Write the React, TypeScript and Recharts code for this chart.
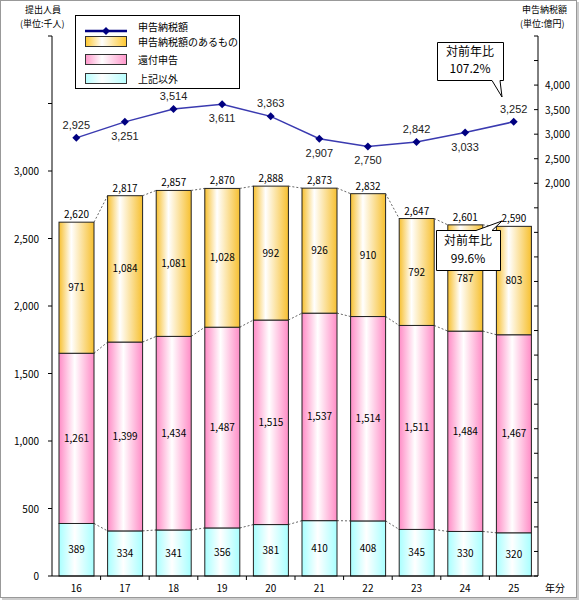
import { ComposedChart, Bar, Line, XAxis, YAxis, LabelList } from "recharts"

const years = ["16", "17", "18", "19", "20", "21", "22", "23", "24", "25"]
const otherCount = [389, 334, 341, 356, 381, 410, 408, 345, 330, 320]
const refundCount = [1261, 1399, 1434, 1487, 1515, 1537, 1514, 1511, 1484, 1467]
const taxpayCount = [971, 1084, 1081, 1028, 992, 926, 910, 792, 787, 803]
const totalCount = [2620, 2817, 2857, 2870, 2888, 2873, 2832, 2647, 2601, 2590]
const taxAmount = [2925, 3251, 3514, 3611, 3363, 2907, 2750, 2842, 3033, 3252]

const leftTicks = [0, 500, 1000, 1500, 2000, 2500, 3000, 3500, 4000]
const rightTicks = [-6000, -5500, -5000, -4500, -4000, -3500, -3000, -2500, -2000, -1500, -1000, -500, 0,
  500, 1000, 1500, 2000, 2500, 3000, 3500, 4000, 4500, 5000]

// which side of the point each amount label sits
const amountLabelSide = ["up", "down", "up", "down", "up", "down", "down", "up", "down", "up"]

const data = years.map((y, i) => ({
  year: y,
  other: otherCount[i],
  refund: refundCount[i],
  taxpay: taxpayCount[i],
  amount: taxAmount[i],
}))

const W = 580
const H = 601
const LEFT_W = 52
const RIGHT_W = 42
const PLOT_W = W - LEFT_W - RIGHT_W
const BAND = PLOT_W / years.length
const FONT = "'Noto Sans CJK JP', sans-serif"

const fmt = (v: number) => v.toLocaleString("en-US")

const cumulative = (key: string) =>
  data.map((d) => {
    if (key === "other") return d.other
    if (key === "refund") return d.other + d.refund
    return d.other + d.refund + d.taxpay
  })

const makeShape = (key: string, grad: string) => {
  const cum = cumulative(key)
  return (props: any) => {
    const { x, y, width, height, index, value } = props
    const v = Array.isArray(value) ? value[1] - value[0] : value
    let link = null
    if (index < data.length - 1 && height > 0) {
      const ny = y - (cum[index + 1] - cum[index]) * (height / v)
      link = (
        <line x1={x + width} y1={y} x2={x + BAND} y2={ny} stroke="#666" strokeWidth={1} strokeDasharray="2 2" />
      )
    }
    return (
      <g>
        <rect x={x} y={y} width={width} height={height} fill={`url(#${grad})`} stroke="#222" strokeWidth={1} />
        {link}
      </g>
    )
  }
}

const Diamond = (props: any) => {
  const { cx, cy } = props
  return <polygon points={`${cx},${cy - 4} ${cx + 4},${cy} ${cx},${cy + 4} ${cx - 4},${cy}`} fill="#000080" />
}

const LeftTick = (props: any) => {
  const { x, y, payload } = props
  if (payload.value > 3000) return <g />
  return (
    <text x={x} y={y} dy={4} textAnchor="end" fontSize={10} fontFamily={FONT} fill="#000">
      {fmt(payload.value)}
    </text>
  )
}

const RightTick = (props: any) => {
  const { x, y, payload } = props
  const show = payload.value >= 2000 && payload.value <= 4000
  return (
    <g>
      <line x1={x - 4} y1={y} x2={x} y2={y} stroke="#000" />
      {show && (
        <text x={x + 7} y={y} dy={4} textAnchor="start" fontSize={10} fontFamily={FONT} fill="#000">
          {fmt(payload.value)}
        </text>
      )}
    </g>
  )
}

const XTick = (props: any) => {
  const { x, y, payload, index } = props
  return (
    <g>
      {index > 0 && <line x1={x - BAND / 2} y1={y} x2={x - BAND / 2} y2={y + 4} stroke="#000" />}
      <text x={x} y={y + 16} textAnchor="middle" fontSize={10} fontFamily={FONT} fill="#000">
        {payload.value}
      </text>
    </g>
  )
}

const TotalLabel = (props: any) => {
  const { x, y, width, index } = props
  return (
    <text x={x + width / 2} y={y - 4} textAnchor="middle" fontSize={10} fontFamily={FONT} fill="#000">
      {fmt(totalCount[index])}
    </text>
  )
}

const AmountLabel = (props: any) => {
  const { x, y, index, value } = props
  const up = amountLabelSide[index] === "up"
  return (
    <text x={x} y={up ? y - 9 : y + 18} textAnchor="middle" fontSize={11} fontFamily="'Liberation Sans', Arial, sans-serif" fill="#222">
      {fmt(value)}
    </text>
  )
}

const legendItems = [
  { name: "申告納税額", kind: "line", color: "#000080" },
  { name: "申告納税額のあるもの", kind: "box", color: "#ffc933" },
  { name: "還付申告", kind: "box", color: "#ff99cc" },
  { name: "上記以外", kind: "box", color: "#b8ffff" },
]

export default function App() {
  return (
    <div style={{ position: "absolute", left: 0, top: 0, width: W, height: H, fontFamily: FONT, background: "#fff" }}>
      <div style={{ position: "absolute", left: 0, top: 0, width: W - 3, height: H - 3, border: "1px solid #999", boxShadow: "2px 2px 0 #ccc", boxSizing: "border-box" }} />
      <ComposedChart width={W} height={H} data={data} margin={{ top: 36, right: 0, bottom: 0, left: 0 }} barSize={35}>
        <defs>
          <linearGradient id="gOrange" x1="0" y1="0" x2="1" y2="0">
            <stop offset="0%" stopColor="#f7c030" />
            <stop offset="35%" stopColor="#ffffff" />
            <stop offset="100%" stopColor="#f7c030" />
          </linearGradient>
          <linearGradient id="gPink" x1="0" y1="0" x2="1" y2="0">
            <stop offset="0%" stopColor="#ff8cc6" />
            <stop offset="45%" stopColor="#ffffff" />
            <stop offset="100%" stopColor="#ff8cc6" />
          </linearGradient>
          <linearGradient id="gCyan" x1="0" y1="0" x2="1" y2="0">
            <stop offset="0%" stopColor="#a8ffff" />
            <stop offset="45%" stopColor="#ffffff" />
            <stop offset="100%" stopColor="#a8ffff" />
          </linearGradient>
        </defs>
        <XAxis dataKey="year" height={25} axisLine={{ stroke: "#000" }} tickLine={false} tickSize={0} tickMargin={0} tick={<XTick />} interval={0} />
        <YAxis yAxisId="left" width={LEFT_W} domain={[0, 4000]} ticks={leftTicks} interval={0} axisLine={{ stroke: "#000" }} tickLine={{ stroke: "#000" }} tickSize={4} tickMargin={9} tick={<LeftTick />} />
        <YAxis yAxisId="right" orientation="right" width={RIGHT_W} domain={[-6000, 5000]} ticks={rightTicks} interval={0} axisLine={{ stroke: "#000" }} tickLine={false} tickSize={0} tickMargin={0} tick={<RightTick />} />
        <Bar yAxisId="left" dataKey="other" stackId="a" isAnimationActive={false} shape={makeShape("other", "gCyan")}>
          <LabelList dataKey="other" position="center" fontSize={10} fontFamily={FONT} fill="#000" formatter={(v: any) => fmt(v)} />
        </Bar>
        <Bar yAxisId="left" dataKey="refund" stackId="a" isAnimationActive={false} shape={makeShape("refund", "gPink")}>
          <LabelList dataKey="refund" position="center" fontSize={10} fontFamily={FONT} fill="#000" formatter={(v: any) => fmt(v)} />
        </Bar>
        <Bar yAxisId="left" dataKey="taxpay" stackId="a" isAnimationActive={false} shape={makeShape("taxpay", "gOrange")}>
          <LabelList dataKey="taxpay" position="center" fontSize={10} fontFamily={FONT} fill="#000" formatter={(v: any) => fmt(v)} />
          <LabelList dataKey="taxpay" content={<TotalLabel />} />
        </Bar>
        <Line yAxisId="right" dataKey="amount" type="linear" stroke="#3a3ab0" strokeWidth={1.5} dot={<Diamond />} activeDot={false} isAnimationActive={false}>
          <LabelList dataKey="amount" content={<AmountLabel />} />
        </Line>
      </ComposedChart>

      {/* axis captions and callouts */}
      <svg width={W} height={H} style={{ position: "absolute", left: 0, top: 0, pointerEvents: "none" }}>
        <g fontSize={9} fontFamily={FONT} fill="#000">
          <text x={25} y={13}>提出人員</text>
          <text x={20} y={27}>(単位:千人)</text>
          <text x={522} y={13}>申告納税額</text>
          <text x={520} y={27}>(単位:億円)</text>
          <text x={545} y={592} fontSize={10}>年分</text>
        </g>
        <path d="M437.5,42.5 H503.5 V80.5 H500 L502,97 L492,80.5 H437.5 Z" fill="#fff" stroke="#000" strokeWidth={1} />
        <text x={470} y={56} textAnchor="middle" fontSize={12} fontFamily={FONT}>対前年比</text>
        <text x={470} y={73} textAnchor="middle" fontSize={12} fontFamily={FONT}>107.2%</text>
        <path d="M436.5,230.5 H476 L502,221 L492,230.5 H500.5 V270.5 H436.5 Z" fill="#fff" stroke="#000" strokeWidth={1} />
        <text x={468} y={245} textAnchor="middle" fontSize={12} fontFamily={FONT}>対前年比</text>
        <text x={468} y={263} textAnchor="middle" fontSize={12} fontFamily={FONT}>99.6%</text>
      </svg>

      {/* legend */}
      <div style={{ position: "absolute", left: 75, top: 15, width: 165, height: 74, border: "1px solid #000", background: "#fff", boxSizing: "border-box" }}>
        {legendItems.map((it, i) => (
          <div key={it.name} style={{ position: "absolute", left: 0, top: [3, 18, 36, 55][i], height: 14, width: 163, display: "flex", alignItems: "center" }}>
            <div style={{ width: 42, marginLeft: 9, height: it.kind === "line" ? 14 : 11, position: "relative", boxSizing: "border-box" }}>
              {it.kind === "line" ? (
                <svg width={42} height={14}>
                  <line x1={0} y1={7} x2={42} y2={7} stroke={it.color} strokeWidth={2.5} />
                  <polygon points="21,3 25,7 21,11 17,7" fill={it.color} />
                </svg>
              ) : (
                <div style={{ width: 42, height: 11, border: "1px solid #333", boxSizing: "border-box", background: `linear-gradient(to right, ${it.color}, #fff 40%, ${it.color})` }} />
              )}
            </div>
            <span style={{ marginLeft: 11, fontSize: 10, whiteSpace: "nowrap" }}>{it.name}</span>
          </div>
        ))}
      </div>
    </div>
  )
}
